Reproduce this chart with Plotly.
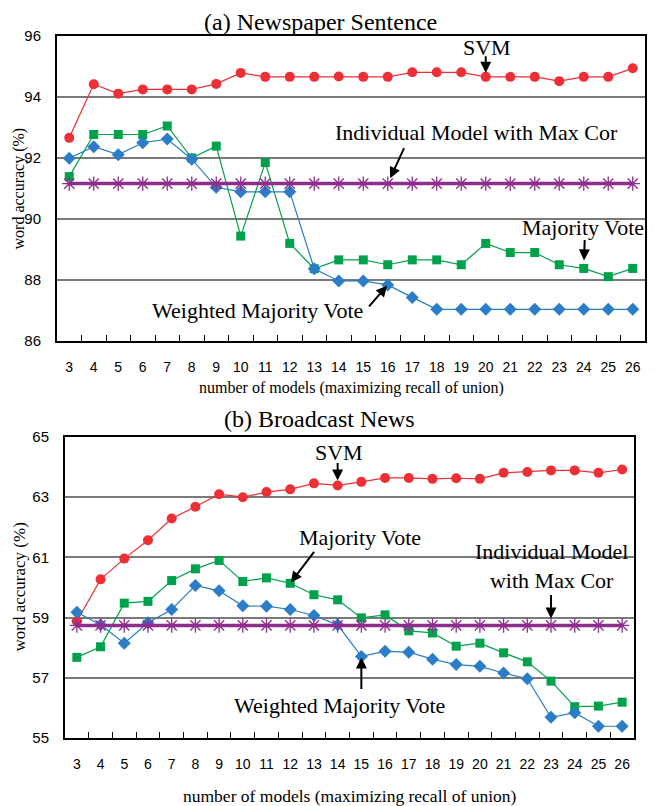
import plotly.graph_objects as go

OFF = 8  # page body margin of the browser
W, H = 655 - OFF, 806 - OFF

models = [str(i) for i in range(3, 27)]

# (a) Newspaper Sentence
svm_a = [92.66, 94.42, 94.11, 94.25, 94.25, 94.25, 94.43, 94.79, 94.66, 94.66, 94.66, 94.67,
         94.66, 94.66, 94.81, 94.81, 94.81, 94.66, 94.66, 94.66, 94.52, 94.66, 94.66, 94.94]
mv_a = [91.39, 92.77, 92.77, 92.77, 93.05, 92.0, 92.39, 89.44, 91.85, 89.2, 88.37, 88.66,
        88.66, 88.5, 88.66, 88.66, 88.5, 89.2, 88.9, 88.9, 88.5, 88.38, 88.11, 88.38]
wmv_a = [91.99, 92.37, 92.11, 92.5, 92.62, 91.96, 91.04, 90.89, 90.89, 90.89, 88.37, 87.97,
         87.97, 87.84, 87.43, 87.04, 87.04, 87.04, 87.04, 87.04, 87.04, 87.04, 87.04, 87.04]
ind_a = [91.16] * 24

# (b) Broadcast News
svm_b = [58.88, 60.27, 60.96, 61.57, 62.29, 62.68, 63.1, 63.0, 63.17, 63.26, 63.46, 63.39,
         63.51, 63.64, 63.64, 63.61, 63.63, 63.61, 63.81, 63.84, 63.89, 63.89, 63.81, 63.92]
mv_b = [57.68, 58.03, 59.48, 59.54, 60.23, 60.62, 60.9, 60.2, 60.32, 60.14, 59.76, 59.59,
        58.99, 59.09, 58.56, 58.49, 58.05, 58.15, 57.83, 57.53, 56.89, 56.04, 56.06, 56.19]
wmv_b = [59.18, 58.76, 58.15, 58.83, 59.27, 60.07, 59.89, 59.39, 59.38, 59.27, 59.07, 58.76,
         57.71, 57.88, 57.85, 57.62, 57.44, 57.38, 57.16, 56.97, 55.69, 55.84, 55.39, 55.39]
ind_b = [58.74] * 24

titles = ["(a) Newspaper Sentence", "(b) Broadcast News"]
xtitle = "number of models (maximizing recall of union)"
ytitle = "word accuracy (%)"

RED = "#ee2f36"
GREEN = "#00a14b"
BLUE = "#2a7dc6"
PURPLE = "#8d2e8d"

SERIF = "Liberation Serif, Times New Roman, serif"
NARROW = "Liberation Sans Narrow, Arial Narrow, Liberation Sans, Arial, sans-serif"


def px(x):
    return (x - OFF) / W


def py(y):
    return 1 - (y - OFF) / H


fig = go.Figure()


def add_set(svm, mv, wmv, ind, xa, ya):
    fig.add_trace(go.Scatter(x=models, y=svm, mode="lines+markers", xaxis=xa, yaxis=ya,
                             line=dict(color=RED, width=1.2),
                             marker=dict(symbol="circle", size=10, color=RED)))
    fig.add_trace(go.Scatter(x=models, y=mv, mode="lines+markers", xaxis=xa, yaxis=ya,
                             line=dict(color=GREEN, width=1.2),
                             marker=dict(symbol="square", size=9, color=GREEN)))
    fig.add_trace(go.Scatter(x=models, y=wmv, mode="lines+markers", xaxis=xa, yaxis=ya,
                             line=dict(color=BLUE, width=1.2),
                             marker=dict(symbol="diamond", size=10, color=BLUE)))
    fig.add_trace(go.Scatter(x=models, y=ind, mode="lines+markers", xaxis=xa, yaxis=ya,
                             line=dict(color=PURPLE, width=3.5),
                             marker=dict(symbol="asterisk-open", size=12,
                                         line=dict(color="#5a1d5a", width=1.3))))


add_set(svm_a, mv_a, wmv_a, ind_a, "x", "y")
add_set(svm_b, mv_b, wmv_b, ind_b, "x2", "y2")

xcommon = dict(type="category", tickson="boundaries", ticks="inside", ticklen=6,
               tickcolor="black", tickwidth=1, showgrid=False, automargin=False,
               showline=True, linecolor="black", linewidth=2, mirror=True,
               tickangle=0,
               tickfont=dict(family=NARROW, size=14, color="black"),
               ticklabelstandoff=12, range=[-0.5, 23.5])
ycommon = dict(dtick=2, showgrid=True, gridcolor="#7a7a7a", gridwidth=1.5,
               showline=True, linecolor="black", linewidth=2, mirror=True,
               ticks="", zeroline=False, automargin=False,
               tickfont=dict(family=NARROW, size=15, color="black"),
               ticklabelstandoff=11)

# plot areas in reference pixels
A = dict(l=57, r=645, t=36, b=341)
B = dict(l=65, r=634, t=437, b=738)

fig.update_layout(
    width=W, height=H, autosize=False,
    margin=dict(l=0, r=0, t=0, b=0, autoexpand=False),
    paper_bgcolor="white", plot_bgcolor="white",
    showlegend=False,
    xaxis=dict(domain=[px(A["l"]), px(A["r"])], anchor="y", **xcommon),
    yaxis=dict(domain=[py(A["b"]), py(A["t"])], anchor="x", range=[86, 96], tick0=86, **ycommon),
    xaxis2=dict(domain=[px(B["l"]), px(B["r"])], anchor="y2", **xcommon),
    yaxis2=dict(domain=[py(B["b"]), py(B["t"])], anchor="x2", range=[55, 65], tick0=55, **ycommon),
)

ann = []


def text_ann(t, x, y, size, angle=0, yanchor="middle"):
    ann.append(dict(text=t, xref="paper", yref="paper", x=px(x), y=py(y),
                    xanchor="center", yanchor=yanchor, textangle=angle,
                    showarrow=False, align="center", borderpad=0,
                    font=dict(family=SERIF, size=size, color="black")))


# titles and axis titles
text_ann(titles[0], 320, 8, 24, yanchor="top")
text_ann(titles[1], 319, 419, 24)
text_ann(ytitle, 19, (A["t"] + A["b"]) / 2, 16, -90)
text_ann(ytitle, 19, (B["t"] + B["b"]) / 2, 17, -90)
text_ann(xtitle, (A["l"] + A["r"]) / 2, 388, 16)
text_ann(xtitle, (B["l"] + B["r"]) / 2, 796, 17.5)

# labels
labels = [
    ("SVM", 487, 47),
    ("Individual Model with Max Cor", 476, 133),
    ("Majority Vote", 583, 227),
    ("Weighted Majority Vote", 257, 310),
    ("SVM", 339, 452),
    ("Majority Vote", 360, 537),
    ("Individual Model<br>with Max Cor", 551, 566),
    ("Weighted Majority Vote", 339, 705),
]
for t, x, y in labels:
    text_ann(t, x, y, 22)

# arrows pointing at data points (x given as category index)
arrows = [
    ("x", "y", 17, svm_a[17], 0, -22, 4),
    ("x", "y", 13, ind_a[13], 17, -37, 6),
    ("x", "y", 21, mv_a[21], 1, -30, 8),
    ("x", "y", 13, wmv_a[13], -20, 23, 1),
    ("x2", "y2", 11, svm_b[11], 0, -24, 5),
    ("x2", "y2", 9, mv_b[9], 25, -33, 1),
    ("x2", "y2", 20, ind_b[20], 0, -32, 7),
    ("x2", "y2", 12, wmv_b[12], 0, 34, 1),
]
for xr, yr, x, y, ax, ay, so in arrows:
    ann.append(dict(text="", xref=xr, yref=yr, x=x, y=y, ax=ax, ay=ay, showarrow=True,
                    arrowhead=2, arrowsize=1.1, arrowwidth=2, arrowcolor="black", standoff=so))

fig.update_layout(annotations=ann)

fig.write_html("out.html")
